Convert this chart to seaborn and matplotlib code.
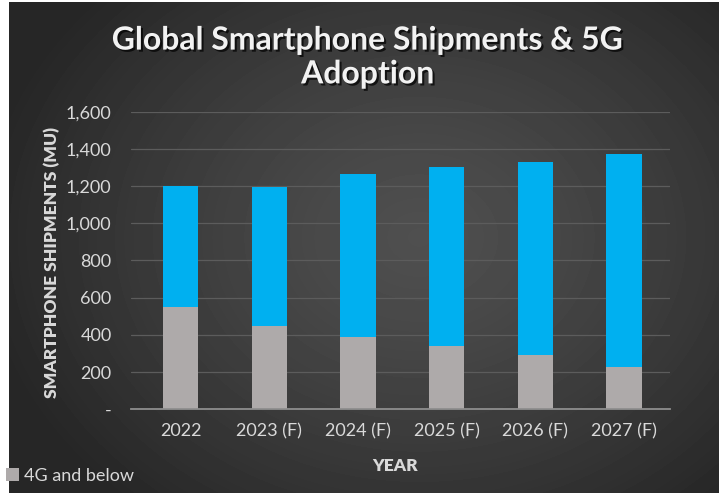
import numpy as np
import pandas as pd
import matplotlib
matplotlib.use("Agg")
import matplotlib.pyplot as plt
import seaborn as sns
from matplotlib import patheffects as pe
from matplotlib.patches import Patch
from matplotlib.ticker import FuncFormatter

# Shipments in millions of units
years = ["2022", "2023 (F)", "2024 (F)", "2025 (F)", "2026 (F)", "2027 (F)"]
shipments_4g = [550, 450, 390, 340, 290, 230]
shipments_5g = [650, 745, 875, 960, 1040, 1140]
y_ticks = [0, 200, 400, 600, 800, 1000, 1200, 1400, 1600]

BLUE = "#00B0F0"
GREY = "#AEAAAA"
TEXT = "#D9D9D9"

sns.set_theme(style="dark")
plt.rcParams["font.family"] = ["Lato", "DejaVu Sans"]

W_PX, H_PX = 723, 493
fig = plt.figure(figsize=(W_PX / 100, H_PX / 100), dpi=100, facecolor="white")

# Dark radial-gradient panel behind the chart
bg = fig.add_axes([0, 0, 1, 1], zorder=-10)
bg.set_xlim(0, W_PX)
bg.set_ylim(H_PX, 0)
bg.axis("off")
pw, ph = 710, 491
yy, xx = np.mgrid[0:ph, 0:pw]
cx, cy = 410, 235
r = np.sqrt(((xx - cx) / (pw * 0.62)) ** 2 + ((yy - cy) / (ph * 0.72)) ** 2)
r = np.clip(r, 0, 1)
shade = 0.31 - (0.31 - 0.15) * r ** 1.3
bg.imshow(shade, cmap="gray", vmin=0, vmax=1, extent=(9, 719, 493, 2),
          interpolation="bilinear", aspect="auto")

# Plot area
left, right, top, bottom = 131, 670, 111.7, 409.3
ax = fig.add_axes([left / W_PX, 1 - bottom / H_PX,
                   (right - left) / W_PX, (bottom - top) / H_PX])
ax.patch.set_alpha(0)

df = pd.DataFrame({"year": years, "g4": shipments_4g, "g5": shipments_5g})
df["total"] = df["g4"] + df["g5"]

sns.barplot(data=df, x="year", y="total", color=BLUE, saturation=1,
            width=0.4, linewidth=0, ax=ax, label="5G")
sns.barplot(data=df, x="year", y="g4", color=GREY, saturation=1,
            width=0.4, linewidth=0, ax=ax, label="4G and below")
if ax.get_legend():
    ax.get_legend().remove()

ax.set_ylim(0, 1600)
ax.set_xlim(-0.56, 5.52)
ax.set_yticks(y_ticks)
ax.yaxis.set_major_formatter(FuncFormatter(lambda v, _: "-" if v == 0 else f"{int(v):,}"))
ax.yaxis.grid(True, color="#5C5C5C", lw=0.9)
ax.xaxis.grid(False)
ax.set_axisbelow(True)
for s in ["top", "right", "left"]:
    ax.spines[s].set_visible(False)
ax.spines["bottom"].set_color("#8E8E8E")
ax.spines["bottom"].set_linewidth(1.3)
ax.tick_params(axis="both", length=0, colors=TEXT, labelsize=13)
ax.tick_params(axis="x", pad=10)
ax.tick_params(axis="y", pad=14)
ax.set_xlabel("")
ax.set_ylabel("")

# Titles and axis labels
fig.text(368 / W_PX, 1 - 57 / H_PX, "Global Smartphone Shipments & 5G\nAdoption",
         ha="center", va="center", ma="center", fontsize=23, fontweight="bold",
         color="#F2F2F2", linespacing=1.2,
         path_effects=[pe.withSimplePatchShadow(offset=(1.5, -1.5), shadow_rgbFace="black", alpha=0.7)])
fig.text(52 / W_PX, 1 - 262 / H_PX, "SMARTPHONE SHIPMENTS (MU)", rotation=90,
         ha="center", va="center", fontsize=12.5, fontweight="heavy", color=TEXT)
fig.text(395 / W_PX, 1 - 466 / H_PX, "YEAR", ha="center", va="center",
         fontsize=12.5, fontweight="heavy", color=TEXT)

fig.legend(handles=[Patch(facecolor=GREY, edgecolor="none")], labels=["4G and below"],
           loc="center left", bbox_to_anchor=(6 / W_PX, 1 - 476 / H_PX),
           frameon=False, handlelength=0.7, handleheight=0.7, handletextpad=0.3,
           labelcolor=TEXT, fontsize=13, borderaxespad=0, borderpad=0)

fig.savefig("out.png", dpi=100, facecolor="white")
